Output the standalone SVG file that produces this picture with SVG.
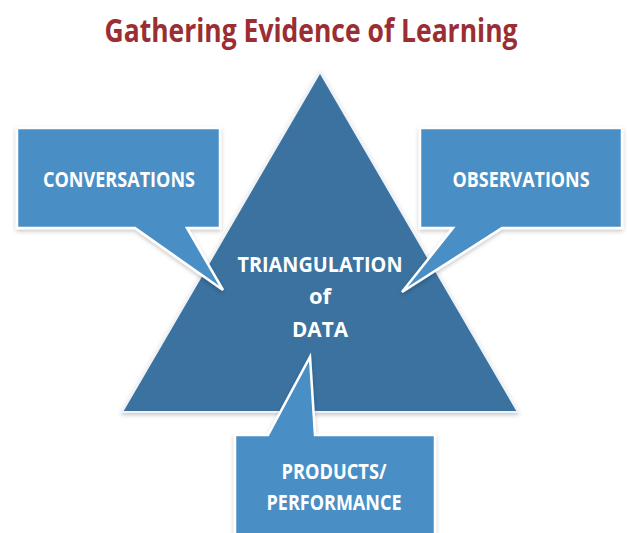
<svg xmlns="http://www.w3.org/2000/svg" width="629" height="533" viewBox="0 0 629 533">
  <defs>
    <filter id="soft" x="-10%" y="-10%" width="120%" height="120%">
      <feGaussianBlur in="SourceAlpha" stdDeviation="2"/>
      <feOffset dx="0" dy="1.5" result="b"/>
      <feFlood flood-color="#000" flood-opacity="0.22"/>
      <feComposite in2="b" operator="in"/>
      <feMerge>
        <feMergeNode/>
        <feMergeNode in="SourceGraphic"/>
      </feMerge>
    </filter>
    <style>
      .tri { fill: #3a72a0; stroke: #eef2f6; stroke-width: 2; filter: url(#soft); }
      .callout { fill: #4a8fc5; stroke: #ffffff; stroke-width: 2.5; stroke-linejoin: miter; filter: url(#soft); }
      .label { font-family: "Open Sans", "Liberation Sans", sans-serif; font-weight: 700; fill: #ffffff; text-anchor: middle; font-size: 22px; }
      .title { font-family: "Open Sans", "Liberation Sans", sans-serif; font-weight: 700; fill: #9b2e32; text-anchor: middle; font-size: 32px; }
    </style>
  </defs>

  <rect width="629" height="533" fill="#ffffff"/>

  <text class="title" x="311" y="42" textLength="413" lengthAdjust="spacingAndGlyphs">Gathering Evidence of Learning</text>

  <g id="triangle">
    <polygon class="tri" points="320,72 518,412 122,412"/>
    <text class="label" x="320" y="272" textLength="165" lengthAdjust="spacingAndGlyphs">TRIANGULATION</text>
    <text class="label" x="320" y="304" font-size="23">of</text>
    <text class="label" x="320" y="337" textLength="56" lengthAdjust="spacingAndGlyphs">DATA</text>
  </g>

  <g id="conversations">
    <path class="callout" d="M17,128 H220 V228 H187 L223,290 L135,228 H17 Z"/>
    <text class="label" x="119" y="187" textLength="152" lengthAdjust="spacingAndGlyphs">CONVERSATIONS</text>
  </g>

  <g id="observations">
    <path class="callout" d="M420,128 H622 V228 H502 L402,292 L453,228 H420 Z"/>
    <text class="label" x="521" y="187" textLength="137" lengthAdjust="spacingAndGlyphs">OBSERVATIONS</text>
  </g>

  <g id="products">
    <path class="callout" d="M235,435 H268 L310,357 L315,435 H435 V540 H235 Z"/>
    <text class="label" x="334" y="479" textLength="105" lengthAdjust="spacingAndGlyphs">PRODUCTS/</text>
    <text class="label" x="334" y="510" textLength="135" lengthAdjust="spacingAndGlyphs">PERFORMANCE</text>
  </g>
</svg>
